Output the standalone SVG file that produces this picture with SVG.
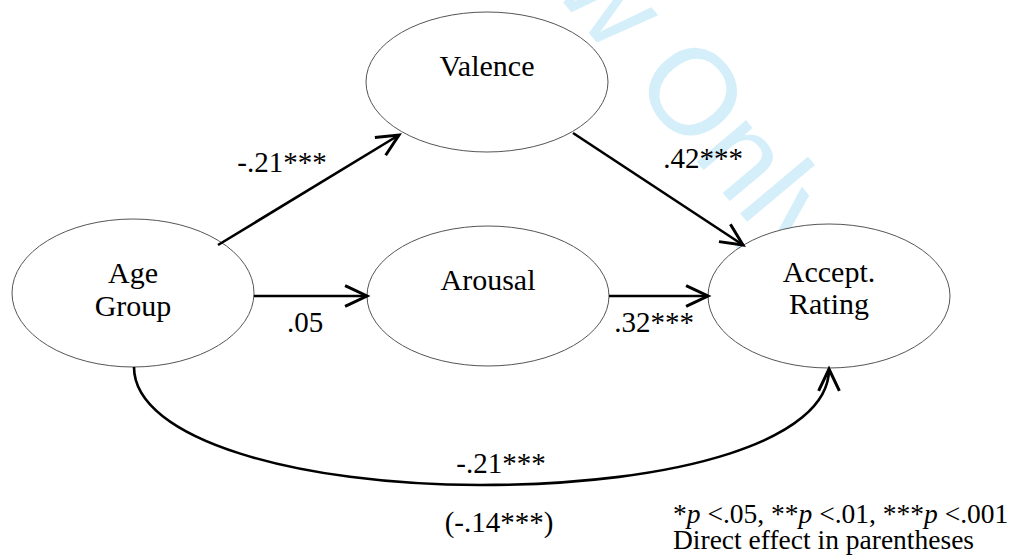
<svg xmlns="http://www.w3.org/2000/svg" width="1010" height="556" viewBox="0 0 1010 556">
<style>
.wm{font-family:'Liberation Sans',Arial,sans-serif;font-size:122px;fill:#d4eefa;}
.node ellipse{fill:#ffffff;stroke:#555555;stroke-width:1;}
.node text{font-family:'Liberation Serif','Times New Roman',serif;font-size:30px;text-anchor:middle;fill:#000000;}
.lbl{font-family:'Liberation Serif','Times New Roman',serif;font-size:29px;text-anchor:middle;fill:#000000;}
.leg{font-family:'Liberation Serif','Times New Roman',serif;font-size:27.5px;fill:#000000;}
.conn{fill:none;stroke:#000000;stroke-width:2.6;marker-end:url(#arr);}
</style>
<defs>
<marker id="arr" markerUnits="userSpaceOnUse" markerWidth="30" markerHeight="30" viewBox="-22 -12 26 24" refX="0" refY="0" orient="auto">
<path d="M-19,-9 L0,0 L-19,9" fill="none" stroke="#000000" stroke-width="2.6"/>
</marker>
</defs>
<rect width="1010" height="556" fill="#ffffff"/>
<text class="wm" transform="translate(212,-416) rotate(50)">For Review Only</text>
<g id="age-group" class="node">
<ellipse cx="133" cy="293" rx="121" ry="74"/>
<text x="133" y="283">Age</text>
<text x="133" y="316">Group</text>
</g>
<g id="valence" class="node">
<ellipse cx="487" cy="82" rx="121" ry="70"/>
<text x="487" y="76">Valence</text>
</g>
<g id="arousal" class="node">
<ellipse cx="488" cy="296" rx="121" ry="70"/>
<text x="488" y="290">Arousal</text>
</g>
<g id="accept-rating" class="node">
<ellipse cx="829" cy="296" rx="121" ry="72"/>
<text x="829" y="282">Accept.</text>
<text x="829" y="314">Rating</text>
</g>
<g id="connectors">
<path class="conn" d="M218,245 L399,135"/>
<path class="conn" d="M573,133 L743,245"/>
<path class="conn" d="M254,296 L367,296"/>
<path class="conn" d="M609,296 L708,296"/>
<path class="conn" d="M134,367 C134,440 300,485 480,485 C680,485 829,440 829,369"/>
</g>
<g id="labels">
<text class="lbl" x="282" y="172">-.21***</text>
<text class="lbl" x="703" y="168">.42***</text>
<text class="lbl" x="305" y="332">.05</text>
<text class="lbl" x="654" y="332">.32***</text>
<text class="lbl" x="501" y="473">-.21***</text>
<text class="lbl" x="499" y="532">(-.14***)</text>
<text class="leg" x="673" y="523">*<tspan font-style="italic">p</tspan> &lt;.05, **<tspan font-style="italic">p</tspan> &lt;.01, ***<tspan font-style="italic">p</tspan> &lt;.001</text>
<text class="leg" x="673" y="549">Direct effect in parentheses</text>
</g>
</svg>
